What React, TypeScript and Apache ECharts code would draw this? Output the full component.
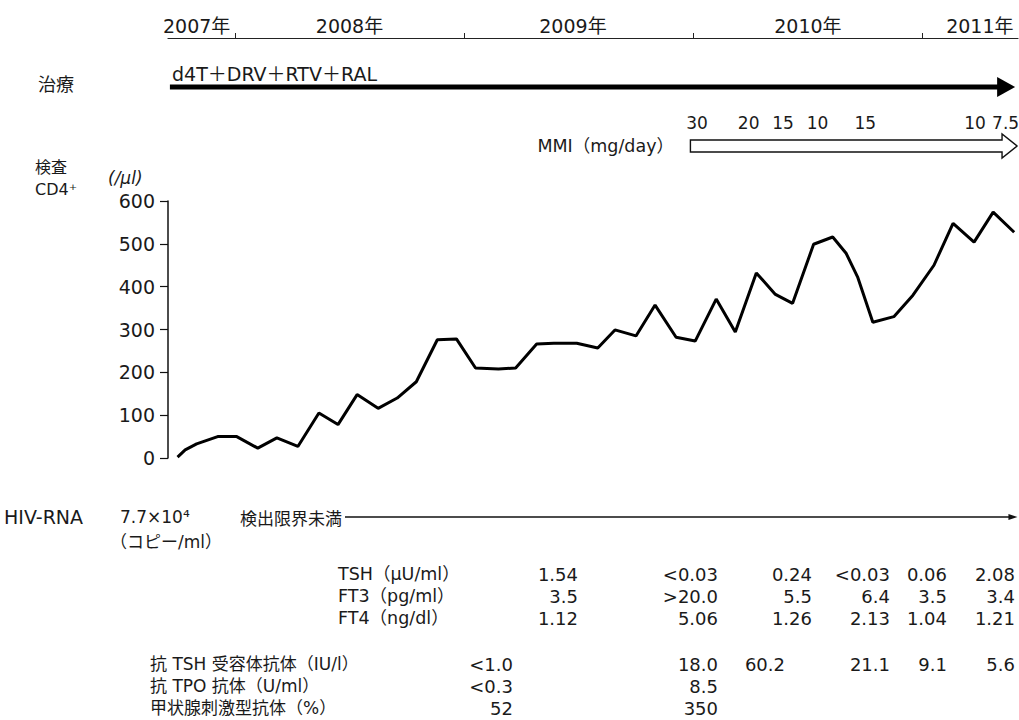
import React, { useEffect, useRef } from 'react';
import * as echarts from 'echarts';

// months counted from Jan 2007 (0 = 2007-01)
const months = [9.0, 9.4, 10.0, 11.1, 12.1, 13.2, 14.2, 15.3, 16.4, 17.4, 18.4, 19.5, 20.5, 21.5, 22.6, 23.6, 24.6, 25.8, 26.7, 27.8, 28.7, 29.9, 31.0, 31.9, 33.0, 34.0, 35.1, 36.1, 37.2, 38.2, 39.3, 40.3, 41.2, 42.3, 43.3, 44.0, 44.6, 45.4, 46.5, 47.5, 48.6, 49.6, 50.7, 51.7, 52.8];
const cd4 = [2, 19, 33, 50, 50, 23, 47, 27, 105, 78, 148, 116, 140, 178, 276, 278, 210, 208, 210, 266, 268, 268, 257, 299, 285, 357, 282, 273, 371, 294, 432, 382, 361, 499, 516, 478, 423, 317, 330, 380, 450, 548, 504, 574, 527];

const axisMin = 8.5;
const axisMax = 53;
const yearStarts = [12, 24, 36, 48];
const yearLabelMonths = [10, 18, 29.7, 42, 51];
const yTicks = [0, 100, 200, 300, 400, 500, 600];

const treatmentName = 'd4T＋DRV＋RTV＋RAL';
const treatmentStart = 8.6;
const treatmentEnd = 52.85;

const mmiStart = 35.85;
const mmiEnd = 52.95;
const mmiDoses = ['30', '20', '15', '10', '15', '10', '7.5'];
const mmiMonths = [36.2, 38.9, 40.7, 42.5, 45.0, 50.75, 52.35];

const hivInitial = '7.7×10⁴';
const hivBelow = '検出限界未満';
const hivEnd = 52.97;

const thyroidLabels = ['TSH（μU/ml）', 'FT3（pg/ml）', 'FT4（ng/dl）'];
const tshValues = ['1.54', '<0.03', '0.24', '<0.03', '0.06', '2.08'];
const ft3Values = ['3.5', '>20.0', '5.5', '6.4', '3.5', '3.4'];
const ft4Values = ['1.12', '5.06', '1.26', '2.13', '1.04', '1.21'];

const antibodyLabels = ['抗 TSH 受容体抗体（IU/l）', '抗 TPO 抗体（U/ml）', '甲状腺刺激型抗体（%）'];
const trabValues = ['<1.0', '18.0', '60.2', '21.1', '9.1', '5.6'];
const tpoValues = ['<0.3', '8.5'];
const tsabValues = ['52', '350'];

const FONT = '"DejaVu Sans", "Noto Sans CJK JP", sans-serif';
const CJK = '"Noto Sans CJK JP", sans-serif';
const INK = '#1a1a1a';

export default function App() {
  const ref = useRef<HTMLDivElement>(null);
  useEffect(() => {
    if (!ref.current) return;
    const chart = echarts.init(ref.current, null, { renderer: 'svg' });
    const option: any = {
      animation: false,
      backgroundColor: '#ffffff',
      textStyle: { fontFamily: FONT },
      grid: { left: 168, top: 201, width: 850, height: 257, containLabel: false },
      xAxis: [
        { type: 'value', min: axisMin, max: axisMax, show: false, splitLine: { show: false } },
        {
          type: 'value', min: axisMin, max: axisMax, position: 'top', offset: 163,
          axisLine: { show: true, lineStyle: { color: '#222', width: 1.2 } },
          axisTick: { show: true, inside: false, length: 5, customValues: yearStarts, lineStyle: { color: '#222', width: 1 } },
          axisLabel: {
            show: true, customValues: yearLabelMonths, margin: 3, fontSize: 19, color: INK, fontFamily: FONT,
            formatter: (v: number) => `${2007 + Math.floor(v / 12)}年`,
          },
          splitLine: { show: false },
        },
      ],
      yAxis: {
        type: 'value', min: 0, max: 600, interval: 100,
        axisLine: { show: true, lineStyle: { color: '#111', width: 1.5 } },
        axisTick: { show: true, inside: false, length: 8, lineStyle: { color: '#111', width: 1.2 } },
        axisLabel: { show: true, margin: 13, fontSize: 19, color: INK, fontFamily: FONT,
          formatter: (v: number) => (yTicks.includes(v) ? String(v) : '') },
        splitLine: { show: false },
      },
      series: [
        {
          type: 'line', xAxisIndex: 0, yAxisIndex: 0,
          data: months.map((m, i) => [m, cd4[i]]),
          symbol: 'none', lineStyle: { color: '#000', width: 3 },
        },
      ],
    };
    chart.setOption(option);

    const px = (m: number) => chart.convertToPixel({ xAxisIndex: 0 }, m) as number;
    const T = (text: string, x: number, y: number, opts: any = {}) => ({
      type: 'text', x, y, silent: true,
      style: { text, fill: INK, fontSize: 18, fontFamily: FONT, align: 'left', verticalAlign: 'middle', ...opts },
    });

    const g: any[] = [];
    // treatment
    g.push(T('治療', 38, 83, { fontSize: 18, fontFamily: CJK }));
    g.push(T(treatmentName, 172, 74, { fontSize: 19 }));
    const tS = px(treatmentStart);
    const tE = px(treatmentEnd);
    g.push({ type: 'line', shape: { x1: tS, y1: 87, x2: tE - 16, y2: 87 }, style: { stroke: '#000', lineWidth: 5 } });
    g.push({ type: 'polygon', shape: { points: [[tE - 18, 77], [tE, 87], [tE - 18, 97]] }, style: { fill: '#000' } });

    // MMI
    g.push(T('MMI（mg/day）', 674, 146, { align: 'right', fontSize: 17.5 }));
    const mS = px(mmiStart);
    const mE = px(mmiEnd);
    g.push({
      type: 'polygon',
      shape: { points: [[mS, 140], [mE - 15, 140], [mE - 15, 134], [mE, 146], [mE - 15, 158], [mE - 15, 152], [mS, 152]] },
      style: { fill: '#fff', stroke: '#111', lineWidth: 1.4 },
    });
    mmiDoses.forEach((d, i) => g.push(T(d, px(mmiMonths[i]), 123, { align: 'center', fontSize: 17 })));

    // CD4 labels
    g.push(T('検査', 35, 166, { fontSize: 16, fontFamily: CJK }));
    g.push(T('CD4⁺', 35, 189, { fontSize: 16 }));
    g.push(T('(/μl)', 108, 178, { fontSize: 17, fontStyle: 'italic' }));

    // HIV-RNA
    g.push(T('HIV-RNA', 4, 517, { fontSize: 19 }));
    g.push(T(hivInitial, 120, 517, { fontSize: 17 }));
    g.push(T('（コピー/ml）', 110, 542, { fontSize: 17 }));
    g.push(T(hivBelow, 240, 517, { fontSize: 17, fontFamily: CJK }));
    const hE = px(hivEnd);
    g.push({ type: 'line', shape: { x1: 345, y1: 517, x2: hE - 6, y2: 517 }, style: { stroke: '#111', lineWidth: 1.3 } });
    g.push({ type: 'polygon', shape: { points: [[hE - 9, 514], [hE, 517], [hE - 9, 520]] }, style: { fill: '#111' } });

    // thyroid function table
    const thyroidCols = [578, 718, 812, 890, 947, 1015];
    const thyroidRows = [574, 596, 618];
    thyroidLabels.forEach((l, i) => g.push(T(l, 338, thyroidRows[i], { fontSize: 17.5 })));
    [tshValues, ft3Values, ft4Values].forEach((row, r) =>
      row.forEach((v, c) => g.push(T(v, thyroidCols[c], thyroidRows[r], { align: 'right', fontSize: 18 }))));

    // antibody table
    const abRows = [664, 686, 708];
    antibodyLabels.forEach((l, i) => g.push(T(l, 150, abRows[i], { fontSize: 17 })));
    const trabCols = [513, 718, 785, 890, 947, 1015];
    trabValues.forEach((v, c) => g.push(T(v, trabCols[c], abRows[0], { align: 'right', fontSize: 18 })));
    const shortCols = [513, 718];
    tpoValues.forEach((v, c) => g.push(T(v, shortCols[c], abRows[1], { align: 'right', fontSize: 18 })));
    tsabValues.forEach((v, c) => g.push(T(v, shortCols[c], abRows[2], { align: 'right', fontSize: 18 })));

    chart.setOption({ graphic: g });
    return () => chart.dispose();
  }, []);
  return <div ref={ref} style={{ position: 'fixed', left: 0, top: 0, width: 1019, height: 720, background: '#fff' }} />;
}
